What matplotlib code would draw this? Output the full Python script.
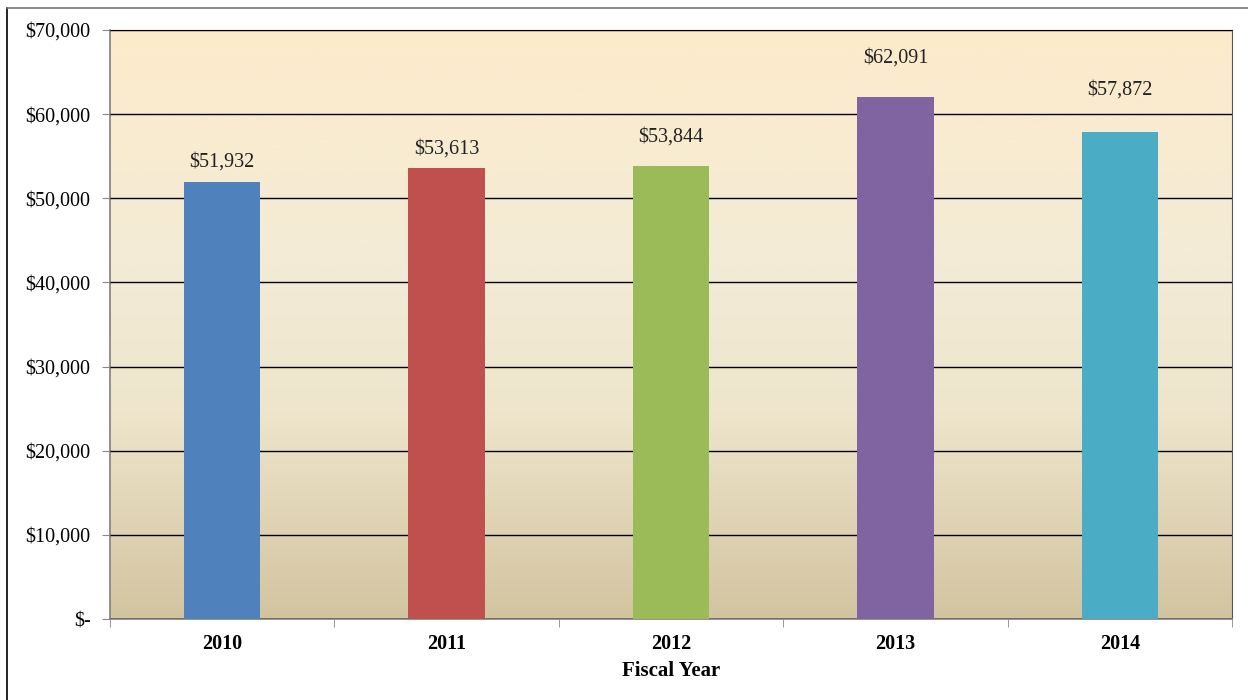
import numpy as np
import matplotlib.pyplot as plt
from matplotlib.colors import LinearSegmentedColormap
from matplotlib.lines import Line2D
from matplotlib.ticker import FuncFormatter

years = ['2010', '2011', '2012', '2013', '2014']
amounts = [51932, 53613, 53844, 62091, 57872]
bar_colors = ['#4F81BD', '#C0504D', '#9BBB59', '#8064A2', '#4BACC6']

plt.rcParams['font.family'] = ['Liberation Serif', 'DejaVu Serif']

fig = plt.figure(figsize=(12.48, 7.0), dpi=100)
ax = fig.add_axes([110 / 1248, 1 - 619 / 700, 1122 / 1248, 589 / 700])

# parchment style gradient behind the bars
bg = LinearSegmentedColormap.from_list(
    'bg', [(0.0, '#D3C4A0'), (0.35, '#EEE5CC'), (0.6, '#F3EBD6'), (1.0, '#FDEBCB')])
grad = np.linspace(0, 1, 256).reshape(-1, 1)
ax.imshow(grad, cmap=bg, aspect='auto', origin='lower',
          extent=[-0.5, 4.5, 0, 70000], zorder=0)

x = np.arange(len(years))
ax.bar(x, amounts, width=0.34, color=bar_colors, zorder=3)

# value labels above each bar
offsets = [14.5, 13.5, 21, 28, 30]
for xi, v, off in zip(x, amounts, offsets):
    ax.annotate('${:,}'.format(v), (xi, v), xytext=(0, off), textcoords='offset points',
                ha='center', va='center', fontsize=14.5, color='#222222', zorder=4)

ax.set_xlim(-0.5, 4.5)
ax.set_ylim(0, 70000)
ax.set_yticks(np.arange(0, 70001, 10000))
ax.yaxis.set_major_formatter(FuncFormatter(lambda v, p: '$-' if v == 0 else '${:,.0f}'.format(v)))
ax.grid(axis='y', color='black', linewidth=1.0, zorder=2)
ax.set_axisbelow(False)

ax.set_xticks(x)
ax.set_xticklabels(years, fontweight='bold', fontsize=14.5)
ax.set_xticks(np.arange(-0.5, 4.6, 1.0), minor=True)
ax.tick_params(axis='x', which='major', length=0, pad=11)
ax.tick_params(axis='x', which='minor', length=6, direction='out', color='#888888')
ax.tick_params(axis='y', length=6, direction='out', color='#888888', labelsize=14.5, pad=8)

for side in ['left', 'bottom']:
    ax.spines[side].set_color('#888888')
    ax.spines[side].set_linewidth(1.3)
ax.spines['top'].set_color('#222222')
ax.spines['right'].set_color('#555555')

ax.set_xlabel('Fiscal Year', fontweight='bold', fontsize=15, labelpad=5)

# outer frame of the figure
fig.add_artist(Line2D([7 / 1248, 7 / 1248], [0, 1 - 8 / 700], transform=fig.transFigure,
                      color='black', linewidth=1.2))
fig.add_artist(Line2D([7 / 1248, 1], [1 - 8 / 700, 1 - 8 / 700], transform=fig.transFigure,
                      color='#777777', linewidth=1.2))

fig.savefig('out.png', dpi=100)
